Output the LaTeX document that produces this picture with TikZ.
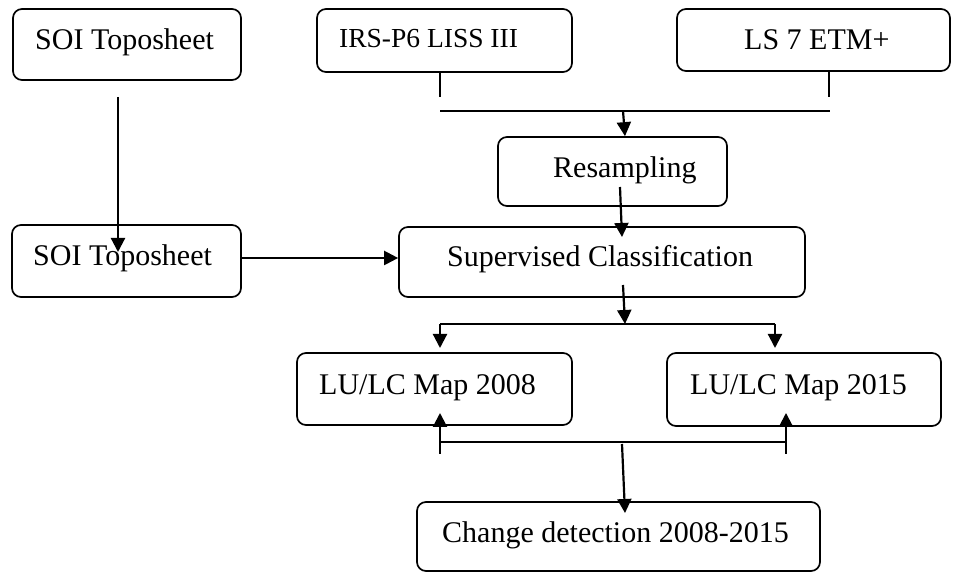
\documentclass[tikz,border=0pt]{standalone}
\usepackage{fontspec}
\setmainfont{Liberation Serif}
\usetikzlibrary{arrows.meta}
\begin{document}
\begin{tikzpicture}[x=1pt,y=1pt,
  box/.style={draw, line width=1.7pt, rounded corners=9pt, inner sep=0pt},
  lbl/.style={anchor=base west, inner sep=0pt, font=\fontsize{30}{36}\selectfont},
  conn/.style={line width=2.2pt},
  arr/.style={line width=2.2pt, -{Triangle[length=14pt,width=14pt]}}
]
\useasboundingbox (0,0) rectangle (956,572);
% boxes
\node[box, minimum width=228pt, minimum height=71pt] (soiA) at (127,527.5) {};
\node[box, minimum width=255pt, minimum height=63pt] (irs) at (444.5,531.5) {};
\node[box, minimum width=273pt, minimum height=62pt] (ls) at (813.5,532) {};
\node[box, minimum width=229pt, minimum height=69pt] (res) at (612.5,400.5) {};
\node[box, minimum width=229pt, minimum height=72pt] (soiB) at (126.5,311) {};
\node[box, minimum width=406pt, minimum height=70pt] (sup) at (602,310) {};
\node[box, minimum width=275pt, minimum height=72pt] (lua) at (434.5,183) {};
\node[box, minimum width=274pt, minimum height=73pt] (lub) at (804,182.5) {};
\node[box, minimum width=403pt, minimum height=69pt] (chg) at (618.5,35.5) {};
% texts
\node[lbl] (tsoiA) at (35,522) {SOI Toposheet};
\node[lbl, font=\fontsize{27.5}{33}\selectfont] (tirs) at (339,524) {IRS-P6 LISS III};
\node[lbl] (tls) at (744,522) {LS 7 ETM+};
\node[lbl] (tres) at (553,394) {Resampling};
\node[lbl] (tsoiB) at (33,306) {SOI Toposheet};
\node[lbl] (tsup) at (447,305) {Supervised Classification};
\node[lbl] (tlua) at (319,177) {LU/LC Map 2008};
\node[lbl] (tlub) at (690,177) {LU/LC Map 2015};
\node[lbl] (tchg) at (442,29) {Change detection 2008-2015};
% coordinates
\coordinate (a1) at (118,475);
\coordinate (a1e) at (118,320);
\coordinate (irsE) at (440,475);
\coordinate (lsE) at (829,475);
\coordinate (hl) at (440,461);
\coordinate (hr) at (830,461);
\coordinate (hm) at (623,461);
\coordinate (r1) at (620,385);
\coordinate (r1e) at (622,335);
\coordinate (s1) at (623,287);
\coordinate (s1e) at (625,248);
\coordinate (sl) at (440,248);
\coordinate (sr) at (775,248);
\coordinate (sle) at (440,224);
\coordinate (sre) at (775,224);
\coordinate (bl) at (440,118);
\coordinate (br) at (786,118);
\coordinate (ble) at (440,159);
\coordinate (bre) at (786,159);
\coordinate (bhl) at (440,130);
\coordinate (bhr) at (786,130);
\coordinate (c1) at (622,128);
\coordinate (c1e) at (625,59);
% connectors
\draw[arr] (a1) -- (a1e);
\draw[arr] (soiB.east |- 0,314) -- (sup.west |- 0,314);
\draw[conn] (irs.south -| irsE) -- (irsE);
\draw[conn] (ls.south -| lsE) -- (lsE);
\draw[conn] (hl) -- (hr);
\draw[arr] (hm) -- (res.north -| 625,0);
\draw[arr] (r1) -- (r1e);
\draw[arr] (s1) -- (s1e);
\draw[conn] (sl) -- (sr);
\draw[arr] (sl) -- (sle);
\draw[arr] (sr) -- (sre);
\draw[arr] (bl) -- (ble);
\draw[arr] (br) -- (bre);
\draw[conn] (bhl) -- (bhr);
\draw[arr] (c1) -- (c1e);
\end{tikzpicture}
\end{document}
